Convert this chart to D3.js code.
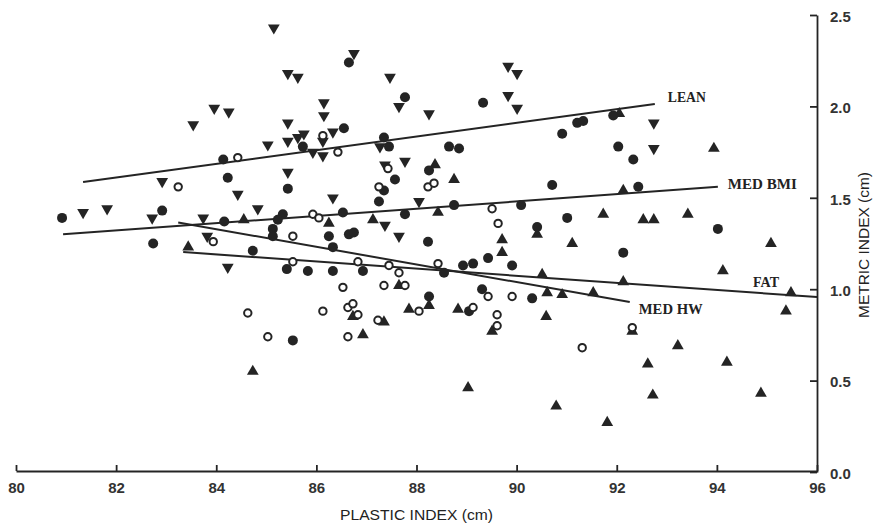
<!DOCTYPE html>
<html>
<head>
<meta charset="utf-8">
<script src="https://cdn.jsdelivr.net/npm/d3@7"></script>
<style>
  body { margin: 0; background: #fff; }
  svg { display: block; }
</style>
</head>
<body>
<svg id="chart" width="875" height="528"></svg>
<script>
// Axis ticks
const xTicks = [80, 82, 84, 86, 88, 90, 92, 94, 96];
const yTicks = [0, 0.5, 1.0, 1.5, 2.0, 2.5];
const yTickLabels = ["0.0", "0.5", "1.0", "1.5", "2.0", "2.5"];

// Observations per group: [plastic index, metric index]
const leanPts = [ // filled down-triangles
  [85.15,2.43],[85.43,2.18],[85.63,2.16],[83.96,1.99],[84.25,1.97],[83.54,1.90],[85.43,1.91],
  [85.03,1.79],[85.43,1.81],[85.63,1.83],[85.75,1.85],[85.93,1.75],[86.13,1.73],[86.15,2.02],
  [86.15,1.95],[85.43,1.64],[82.92,1.59],[84.43,1.52],[84.83,1.44],[81.34,1.42],[81.82,1.44],
  [82.72,1.39],[83.74,1.39],[83.82,1.29],[84.23,1.12],[86.75,2.29],[87.47,2.16],[87.65,2.00],
  [88.25,1.96],[89.83,2.22],[90.01,2.18],[89.83,2.06],[90.01,1.99],[86.13,1.81],[86.33,1.86],
  [87.27,1.78],[87.37,1.68],[87.77,1.70],[86.33,1.50],[88.05,1.48],[87.37,1.35],[87.65,1.29],
  [92.74,1.91],[92.74,1.77]
];
const medBmiPts = [ // filled circles
  [84.14,1.71],[84.23,1.61],[85.43,1.55],[80.92,1.39],[82.92,1.43],[85.33,1.41],[85.23,1.38],
  [84.16,1.37],[85.13,1.33],[85.13,1.29],[82.74,1.25],[84.73,1.21],[85.41,1.11],[85.53,0.72],
  [85.73,1.78],[86.65,2.24],[87.77,2.05],[89.33,2.02],[86.55,1.88],[87.35,1.83],[87.45,1.78],
  [88.65,1.78],[88.85,1.77],[88.25,1.65],[87.57,1.60],[87.35,1.54],[87.25,1.48],[86.53,1.42],
  [87.77,1.41],[88.75,1.46],[90.09,1.46],[86.25,1.29],[86.65,1.30],[86.75,1.31],[88.23,1.26],
  [89.43,1.17],[86.33,1.23],[86.93,1.10],[88.55,1.09],[88.93,1.13],[89.13,1.14],[89.91,1.13],
  [86.33,1.10],[85.83,1.10],[89.31,1.00],[88.25,0.96],[89.05,0.88],[90.31,0.95],[91.21,1.91],
  [91.33,1.92],[91.93,1.95],[90.91,1.85],[92.03,1.78],[92.33,1.71],[90.71,1.57],[92.43,1.56],
  [91.01,1.39],[90.41,1.34],[92.13,1.20],[94.02,1.33]
];
const medHwPts = [ // open circles
  [84.43,1.72],[83.24,1.56],[83.94,1.26],[85.53,1.29],[85.53,1.15],[84.63,0.87],[85.03,0.74],
  [86.13,0.88],[86.13,1.84],[86.43,1.75],[87.43,1.66],[87.25,1.56],[88.23,1.56],[88.35,1.58],
  [85.93,1.41],[86.05,1.39],[89.51,1.44],[89.63,1.36],[86.83,1.15],[87.45,1.13],[87.65,1.09],
  [88.43,1.14],[86.53,1.01],[87.35,1.02],[87.77,1.02],[89.43,0.96],[89.91,0.96],[86.63,0.90],
  [86.73,0.92],[86.83,0.86],[88.05,0.88],[89.13,0.90],[89.61,0.86],[89.61,0.80],[87.23,0.83],
  [86.63,0.74],[91.31,0.68],[92.31,0.79]
];
const fatPts = [ // filled up-triangles
  [84.55,1.38],[83.44,1.23],[84.73,0.55],[88.37,1.68],[88.75,1.60],[88.43,1.42],[86.25,1.36],
  [87.13,1.38],[89.71,1.27],[89.71,1.20],[87.65,1.02],[88.25,0.91],[86.73,0.85],[87.85,0.89],
  [88.83,0.89],[89.51,0.77],[87.35,0.82],[86.93,0.75],[89.03,0.46],[90.79,0.36],[90.51,1.08],
  [90.61,0.98],[90.91,0.97],[90.59,0.85],[92.05,1.96],[92.13,1.54],[91.73,1.41],[92.53,1.38],
  [92.74,1.38],[93.42,1.41],[90.41,1.30],[91.11,1.25],[92.13,1.04],[91.53,0.98],[93.94,1.77],
  [95.08,1.25],[94.12,1.10],[95.48,0.98],[95.38,0.88],[92.31,0.77],[93.22,0.69],[92.62,0.59],
  [94.20,0.60],[92.72,0.42],[94.88,0.43],[91.81,0.27]
];

// Fitted lines per group: endpoints [x, y]
const leanFit   = [[81.34, 1.586], [92.76, 2.013]];
const medBmiFit = [[80.94, 1.300], [94.02, 1.560]];
const fatFit    = [[83.34, 1.203], [96.00, 0.957]];
const medHwFit  = [[83.24, 1.365], [92.26, 0.930]];
const lineNames = ["LEAN", "MED BMI", "FAT", "MED HW"];

const ink = "#242424";
const svg = d3.select("#chart");
svg.append("rect").attr("width", 875).attr("height", 528).attr("fill", "#fff");

const x = d3.scaleLinear().domain([80, 96]).range([16, 817]);
const y = d3.scaleLinear().domain([0, 2.5]).range([472, 15]);

// Bottom axis, ticks pointing up into the plot
const xAxis = d3.axisBottom(x).tickValues(xTicks).tickSize(-6).tickSizeOuter(0).tickPadding(12);
const gx = svg.append("g").attr("transform", `translate(0,${y(0) - 1})`).call(xAxis);
gx.select(".domain").attr("stroke", ink).attr("stroke-width", 1.8);
gx.selectAll(".tick line").attr("stroke", ink).attr("stroke-width", 1.8);
gx.selectAll(".tick text")
  .attr("font-family", "'Liberation Sans', Arial, sans-serif")
  .attr("font-size", 15).attr("font-weight", "bold").attr("fill", "#333")
  .attr("dy", "0.65em");

// Right axis, ticks pointing left into the plot
const yAxis = d3.axisRight(y).tickValues(yTicks).tickFormat((d, i) => yTickLabels[i])
  .tickSize(-7).tickSizeOuter(0).tickPadding(13);
const gy = svg.append("g").attr("transform", `translate(${x(96)},0)`).call(yAxis);
gy.select(".domain").attr("stroke", ink).attr("stroke-width", 1.8);
gy.selectAll(".tick line").attr("stroke", ink).attr("stroke-width", 1.8);
gy.selectAll(".tick text")
  .attr("font-family", "'Liberation Sans', Arial, sans-serif")
  .attr("font-size", 15).attr("font-weight", "bold").attr("fill", "#333")
  .attr("dy", "0.42em");

// Axis titles
svg.append("text")
  .attr("x", 340).attr("y", 520)
  .attr("font-family", "'Liberation Sans', Arial, sans-serif")
  .attr("font-size", 15).attr("fill", "#222")
  .attr("textLength", 153).attr("lengthAdjust", "spacingAndGlyphs")
  .text("PLASTIC INDEX (cm)");
svg.append("text")
  .attr("transform", "translate(869,318) rotate(-90)")
  .attr("font-family", "'Liberation Sans', Arial, sans-serif")
  .attr("font-size", 15).attr("fill", "#222")
  .attr("textLength", 146).attr("lengthAdjust", "spacingAndGlyphs")
  .text("METRIC INDEX (cm)");

// Regression lines
const fits = [leanFit, medBmiFit, fatFit, medHwFit];
const line = d3.line().x(d => x(d[0])).y(d => y(d[1]));
svg.append("g").selectAll("path").data(fits).join("path")
  .attr("d", line).attr("fill", "none").attr("stroke", ink).attr("stroke-width", 2);

// Line labels, placed from each line's end point
const labelSpec = [
  { fit: leanFit,   dx: 13,  dy: -2, w: 38 },
  { fit: medBmiFit, dx: 10,  dy: 2,  w: 69 },
  { fit: fatFit,    dx: -64, dy: -10, w: 26 },
  { fit: medHwFit,  dx: 9,   dy: 12, w: 64 }
];
svg.append("g").selectAll("text").data(labelSpec).join("text")
  .attr("x", d => x(d.fit[1][0]) + d.dx)
  .attr("y", d => y(d.fit[1][1]) + d.dy)
  .attr("font-family", "'Liberation Serif', 'Times New Roman', serif")
  .attr("font-size", 14).attr("font-weight", "bold").attr("fill", "#222")
  .attr("textLength", d => d.w).attr("lengthAdjust", "spacingAndGlyphs")
  .text((d, i) => lineNames[i]);

// Markers
const tri = d3.symbol().type(d3.symbolTriangle).size(60)();
const g = svg.append("g");
g.selectAll(".lean").data(leanPts).join("path").attr("class", "lean")
  .attr("d", tri).attr("fill", ink)
  .attr("transform", d => `translate(${x(d[0])},${y(d[1])}) rotate(180)`);
g.selectAll(".fat").data(fatPts).join("path").attr("class", "fat")
  .attr("d", tri).attr("fill", ink)
  .attr("transform", d => `translate(${x(d[0])},${y(d[1])})`);
g.selectAll(".bmi").data(medBmiPts).join("circle").attr("class", "bmi")
  .attr("cx", d => x(d[0])).attr("cy", d => y(d[1])).attr("r", 5).attr("fill", ink);
g.selectAll(".hw").data(medHwPts).join("circle").attr("class", "hw")
  .attr("cx", d => x(d[0])).attr("cy", d => y(d[1])).attr("r", 3.7)
  .attr("fill", "#fff").attr("stroke", ink).attr("stroke-width", 2);
</script>
</body>
</html>
